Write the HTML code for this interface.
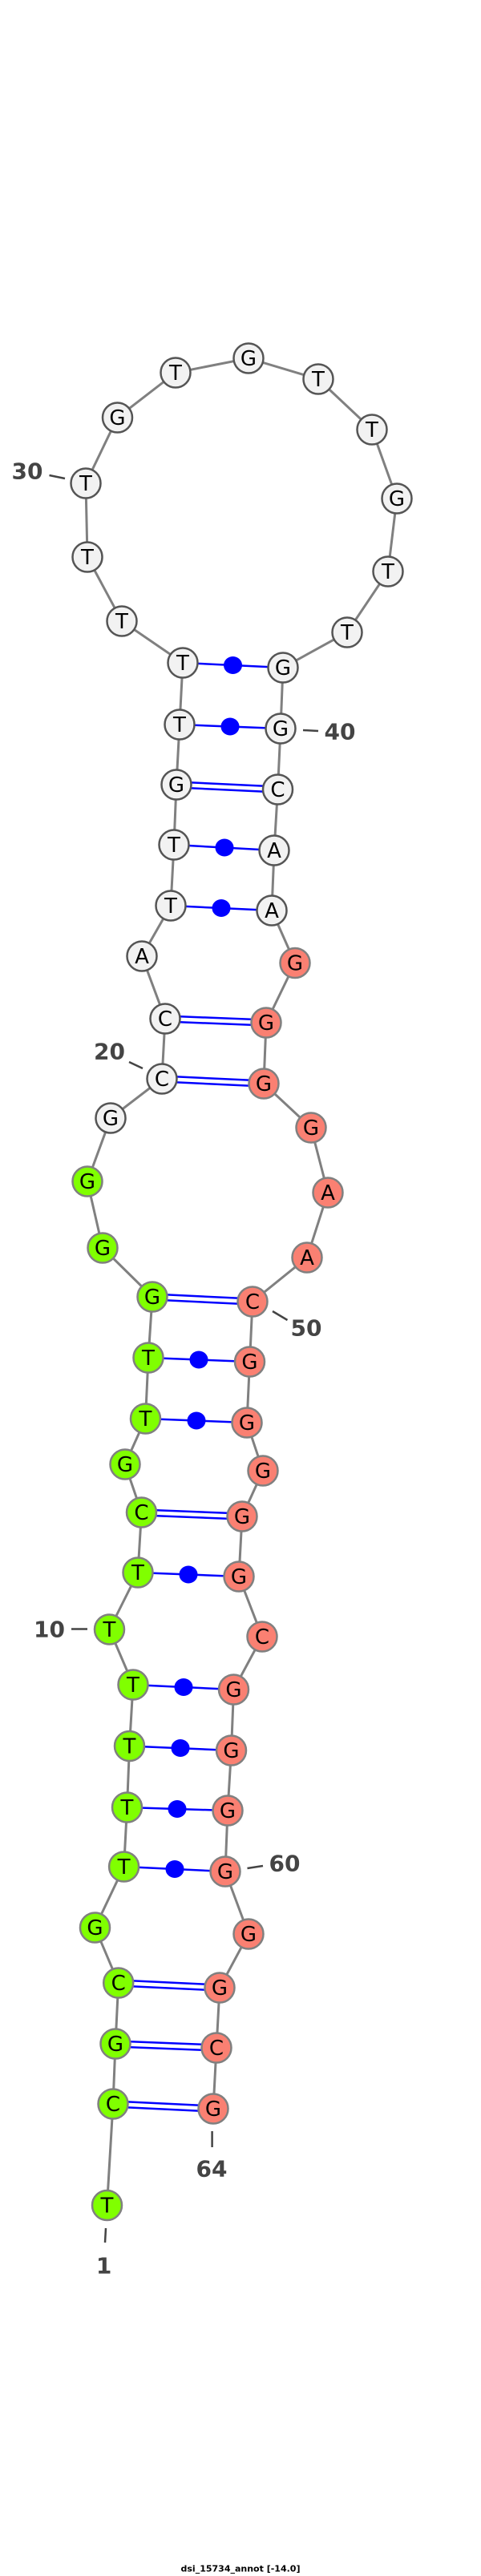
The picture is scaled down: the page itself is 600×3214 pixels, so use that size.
<!DOCTYPE html>
<html><head><meta charset="utf-8"><style>
html,body{margin:0;padding:0;background:#fff;}
svg{display:block;}
.n{stroke-width:2.5;}
.w{fill:#f2f2f2;stroke:#555;}
.g{fill:#80ff00;stroke:#808080;}
.r{fill:#fa8072;stroke:#808080;}
.t{font-family:"DejaVu Sans","Liberation Sans",sans-serif;font-size:26px;fill:#000;text-anchor:middle;dominant-baseline:central;}
.l{font-family:"DejaVu Sans","Liberation Sans",sans-serif;font-size:28px;font-weight:bold;fill:#444;text-anchor:middle;dominant-baseline:central;}
</style></head><body>
<svg width="600" height="3214" viewBox="0 0 600 3214" xmlns="http://www.w3.org/2000/svg">
<polyline fill="none" stroke="#808080" stroke-width="3" points="133.5,2751.5 141,2625 144,2550 147.7,2474 118.5,2405 154.6,2329 158.5,2255 161.5,2178.5 166,2102 136.5,2033 172,1962 176.5,1887 156,1827 181.5,1770 185,1694 190,1618 128,1557 109,1474 138,1395 202,1346 206,1271 177,1193 213,1130 217,1054 220,979 224,904 228,827 152,775 109,695 107,603 146.5,521 219,465 310,447 397,473 464,536 495,622 484,713 433,789 353,833 350,909 346.5,985 342,1061 339,1136 368,1201.5 332,1276 329,1352 388,1407 409,1488 383,1569 315,1624 311.5,1699 308,1775 328,1835 302,1892 298,1967 327,2042 291.5,2108 288.5,2184 284,2259 281,2335 310,2413 274,2480 270,2555 266,2631"/>
<g stroke="#0000ff" stroke-width="2.5" fill="none">
<!-- double -->
<line x1="141" y1="2621.5" x2="266" y2="2627.5"/><line x1="141" y1="2628.5" x2="266" y2="2634.5"/>
<line x1="144" y1="2546.5" x2="270" y2="2551.5"/><line x1="144" y1="2553.5" x2="270" y2="2558.5"/>
<line x1="147.7" y1="2470.5" x2="274" y2="2476.5"/><line x1="147.7" y1="2477.5" x2="274" y2="2483.5"/>
<line x1="176.5" y1="1883.5" x2="302" y2="1888.5"/><line x1="176.5" y1="1890.5" x2="302" y2="1895.5"/>
<line x1="190" y1="1614.5" x2="315" y2="1620.5"/><line x1="190" y1="1621.5" x2="315" y2="1627.5"/>
<line x1="202" y1="1342.5" x2="329" y2="1348.5"/><line x1="202" y1="1349.5" x2="329" y2="1355.5"/>
<line x1="206" y1="1267.5" x2="332" y2="1272.5"/><line x1="206" y1="1274.5" x2="332" y2="1279.5"/>
<line x1="220" y1="975.5" x2="346.5" y2="981.5"/><line x1="220" y1="982.5" x2="346.5" y2="988.5"/>
<!-- single -->
<line x1="154.6" y1="2329" x2="281" y2="2335"/>
<line x1="158.5" y1="2255" x2="284" y2="2259"/>
<line x1="161.5" y1="2178.5" x2="288.5" y2="2184"/>
<line x1="166" y1="2102" x2="291.5" y2="2108"/>
<line x1="172" y1="1962" x2="298" y2="1967"/>
<line x1="181.5" y1="1770" x2="308" y2="1775"/>
<line x1="185" y1="1694" x2="311.5" y2="1699"/>
<line x1="213" y1="1130" x2="339" y2="1136"/>
<line x1="217" y1="1054" x2="342" y2="1061"/>
<line x1="224" y1="904" x2="350" y2="909"/>
<line x1="228" y1="827" x2="353" y2="833"/>
</g>
<g fill="#0000ff">
<ellipse cx="218" cy="2332" rx="11.5" ry="11"/>
<ellipse cx="221" cy="2257" rx="11.5" ry="11"/>
<ellipse cx="225" cy="2181" rx="11.5" ry="11"/>
<ellipse cx="229" cy="2105" rx="11.5" ry="11"/>
<ellipse cx="235" cy="1964.5" rx="11.5" ry="11"/>
<ellipse cx="245" cy="1772.5" rx="11.5" ry="11"/>
<ellipse cx="248" cy="1696.5" rx="11.5" ry="11"/>
<ellipse cx="276" cy="1133" rx="11.5" ry="11"/>
<ellipse cx="280" cy="1057.5" rx="11.5" ry="11"/>
<ellipse cx="287" cy="906.5" rx="11.5" ry="11"/>
<ellipse cx="290.5" cy="830" rx="11.5" ry="11"/>
</g>
<g class="n">
<circle class="g" cx="133.5" cy="2751.5" r="18.5"/><circle class="g" cx="141" cy="2625" r="18.5"/><circle class="g" cx="144" cy="2550" r="18.5"/><circle class="g" cx="147.7" cy="2474" r="18.5"/><circle class="g" cx="118.5" cy="2405" r="18.5"/><circle class="g" cx="154.6" cy="2329" r="18.5"/><circle class="g" cx="158.5" cy="2255" r="18.5"/><circle class="g" cx="161.5" cy="2178.5" r="18.5"/><circle class="g" cx="166" cy="2102" r="18.5"/><circle class="g" cx="136.5" cy="2033" r="18.5"/><circle class="g" cx="172" cy="1962" r="18.5"/><circle class="g" cx="176.5" cy="1887" r="18.5"/><circle class="g" cx="156" cy="1827" r="18.5"/><circle class="g" cx="181.5" cy="1770" r="18.5"/><circle class="g" cx="185" cy="1694" r="18.5"/><circle class="g" cx="190" cy="1618" r="18.5"/><circle class="g" cx="128" cy="1557" r="18.5"/><circle class="g" cx="109" cy="1474" r="18.5"/>
<circle class="w" cx="138" cy="1395" r="18.5"/><circle class="w" cx="202" cy="1346" r="18.5"/><circle class="w" cx="206" cy="1271" r="18.5"/><circle class="w" cx="177" cy="1193" r="18.5"/><circle class="w" cx="213" cy="1130" r="18.5"/><circle class="w" cx="217" cy="1054" r="18.5"/><circle class="w" cx="220" cy="979" r="18.5"/><circle class="w" cx="224" cy="904" r="18.5"/><circle class="w" cx="228" cy="827" r="18.5"/><circle class="w" cx="152" cy="775" r="18.5"/><circle class="w" cx="109" cy="695" r="18.5"/><circle class="w" cx="107" cy="603" r="18.5"/><circle class="w" cx="146.5" cy="521" r="18.5"/><circle class="w" cx="219" cy="465" r="18.5"/><circle class="w" cx="310" cy="447" r="18.5"/><circle class="w" cx="397" cy="473" r="18.5"/><circle class="w" cx="464" cy="536" r="18.5"/><circle class="w" cx="495" cy="622" r="18.5"/><circle class="w" cx="484" cy="713" r="18.5"/><circle class="w" cx="433" cy="789" r="18.5"/><circle class="w" cx="353" cy="833" r="18.5"/><circle class="w" cx="350" cy="909" r="18.5"/><circle class="w" cx="346.5" cy="985" r="18.5"/><circle class="w" cx="342" cy="1061" r="18.5"/><circle class="w" cx="339" cy="1136" r="18.5"/>
<circle class="r" cx="368" cy="1201.5" r="18.5"/><circle class="r" cx="332" cy="1276" r="18.5"/><circle class="r" cx="329" cy="1352" r="18.5"/><circle class="r" cx="388" cy="1407" r="18.5"/><circle class="r" cx="409" cy="1488" r="18.5"/><circle class="r" cx="383" cy="1569" r="18.5"/><circle class="r" cx="315" cy="1624" r="18.5"/><circle class="r" cx="311.5" cy="1699" r="18.5"/><circle class="r" cx="308" cy="1775" r="18.5"/><circle class="r" cx="328" cy="1835" r="18.5"/><circle class="r" cx="302" cy="1892" r="18.5"/><circle class="r" cx="298" cy="1967" r="18.5"/><circle class="r" cx="327" cy="2042" r="18.5"/><circle class="r" cx="291.5" cy="2108" r="18.5"/><circle class="r" cx="288.5" cy="2184" r="18.5"/><circle class="r" cx="284" cy="2259" r="18.5"/><circle class="r" cx="281" cy="2335" r="18.5"/><circle class="r" cx="310" cy="2413" r="18.5"/><circle class="r" cx="274" cy="2480" r="18.5"/><circle class="r" cx="270" cy="2555" r="18.5"/><circle class="r" cx="266" cy="2631" r="18.5"/>
</g>
<g class="t">
<text x="133.5" y="2752.5">T</text><text x="141" y="2626">C</text><text x="144" y="2551">G</text><text x="147.7" y="2475">C</text><text x="118.5" y="2406">G</text><text x="154.6" y="2330">T</text><text x="158.5" y="2256">T</text><text x="161.5" y="2179.5">T</text><text x="166" y="2103">T</text><text x="136.5" y="2034">T</text><text x="172" y="1963">T</text><text x="176.5" y="1888">C</text><text x="156" y="1828">G</text><text x="181.5" y="1771">T</text><text x="185" y="1695">T</text><text x="190" y="1619">G</text><text x="128" y="1558">G</text><text x="109" y="1475">G</text>
<text x="138" y="1396">G</text><text x="202" y="1347">C</text><text x="206" y="1272">C</text><text x="177" y="1194">A</text><text x="213" y="1131">T</text><text x="217" y="1055">T</text><text x="220" y="980">G</text><text x="224" y="905">T</text><text x="228" y="828">T</text><text x="152" y="776">T</text><text x="109" y="696">T</text><text x="107" y="604">T</text><text x="146.5" y="522">G</text><text x="219" y="466">T</text><text x="310" y="448">G</text><text x="397" y="474">T</text><text x="464" y="537">T</text><text x="495" y="623">G</text><text x="484" y="714">T</text><text x="433" y="790">T</text><text x="353" y="834">G</text><text x="350" y="910">G</text><text x="346.5" y="986">C</text><text x="342" y="1062">A</text><text x="339" y="1137">A</text>
<text x="368" y="1202.5">G</text><text x="332" y="1277">G</text><text x="329" y="1353">G</text><text x="388" y="1408">G</text><text x="409" y="1489">A</text><text x="383" y="1570">A</text><text x="315" y="1625">C</text><text x="311.5" y="1700">G</text><text x="308" y="1776">G</text><text x="328" y="1836">G</text><text x="302" y="1893">G</text><text x="298" y="1968">G</text><text x="327" y="2043">C</text><text x="291.5" y="2109">G</text><text x="288.5" y="2185">G</text><text x="284" y="2260">G</text><text x="281" y="2336">G</text><text x="310" y="2414">G</text><text x="274" y="2481">G</text><text x="270" y="2556">C</text><text x="266" y="2632">G</text>
</g>
<g stroke="#444" stroke-width="2.5">
<line x1="61.5" y1="593" x2="81" y2="597"/>
<line x1="378" y1="911" x2="397" y2="912"/>
<line x1="161" y1="1325" x2="178" y2="1333"/>
<line x1="340" y1="1636" x2="358.5" y2="1647"/>
<line x1="89" y1="2032.5" x2="109" y2="2032.5"/>
<line x1="308.5" y1="2331" x2="328" y2="2328"/>
<line x1="264.6" y1="2659" x2="264.6" y2="2679"/>
<line x1="132" y1="2780" x2="131" y2="2798"/>
</g>
<g class="l">
<text x="34" y="588">30</text>
<text x="424" y="913">40</text>
<text x="136.5" y="1312">20</text>
<text x="382" y="1657">50</text>
<text x="61.5" y="2033">10</text>
<text x="355" y="2325">60</text>
<text x="264" y="2706">64</text>
<text x="129.6" y="2827">1</text>
</g>
<text x="300" y="3205" font-family="'DejaVu Sans','Liberation Sans',sans-serif" font-size="11" font-weight="bold" fill="#000" text-anchor="middle" dominant-baseline="central">dsi_15734_annot [-14.0]</text>
</svg>
</body></html>
